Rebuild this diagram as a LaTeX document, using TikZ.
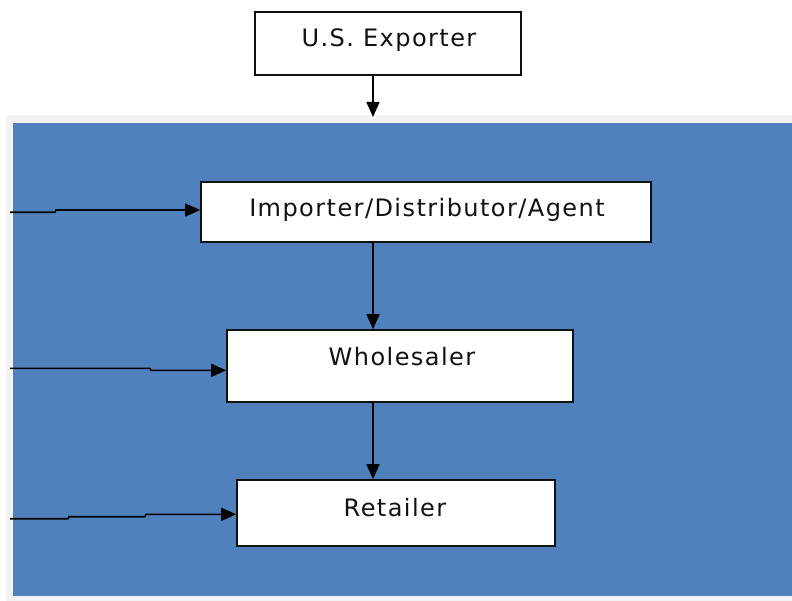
\documentclass[tikz,border=0pt]{standalone}
\usepackage{fontspec}
\setmainfont{DejaVu Sans}[LetterSpace=6]
\usetikzlibrary{arrows.meta,calc}
\definecolor{panelblue}{HTML}{4F81BD}
\definecolor{panelgrey}{HTML}{F2F2F2}
\definecolor{inkc}{HTML}{111111}
\tikzset{
  box/.style={draw=inkc, line width=1.6pt, fill=white, inner sep=0pt},
  lbl/.style={anchor=base, inner sep=0pt, text=inkc, font=\fontsize{24}{28}\selectfont},
  flow/.style={draw=black, line width=1.6pt, -{Triangle[length=15pt,width=13pt]}},
}
\begin{document}
\begin{tikzpicture}[x=1pt,y=-1pt]
\useasboundingbox (0,0) rectangle (792,601);
\fill[white] (0,0) rectangle (792,601);
\fill[panelgrey] (6,115) rectangle (792,601);
\fill[panelblue] (13,123) rectangle (792,596);

\node[box, minimum width=266pt, minimum height=63pt] (exp) at (388,43.5) {};
\node[box, minimum width=450pt, minimum height=60pt] (imp) at (426,212) {};
\node[box, minimum width=346pt, minimum height=72pt] (who) at (400,366) {};
\node[box, minimum width=318pt, minimum height=66pt] (ret) at (396,513) {};

\node[lbl] (expT) at ($(exp.center)+(1,3)$) {U.S. Exporter};
\node[lbl] (impT) at ($(imp.center)+(1,5)$) {Importer/Distributor/Agent};
\node[lbl] (whoT) at ($(who.center)+(2,-0.5)$) {Wholesaler};
\node[lbl] (retT) at ($(ret.center)+(-1,3.5)$) {Retailer};

\coordinate (top) at (373,117);
\draw[flow] (exp.south -| top) -- (top);
\draw[flow] (imp.south -| top) -- (who.north -| top);
\draw[flow] (who.south -| top) -- (ret.north -| top);

\coordinate (in1) at (10,212.3);
\coordinate (in2) at (10,368.3);
\coordinate (in3) at (10,518.7);
\draw[flow] (in1) -- ++(45,0) -- ++(1,-2.3) -- ($(imp.west)+(0,-2)$);
\draw[flow] (in2) -- ++(140,0) -- ++(1,2) -- ($(who.west)+(0,4.3)$);
\draw[flow] (in3) -- ++(58,0) -- ++(1,-2) -- ++(76,0) -- ++(1,-2.4) -- ($(ret.west)+(0,1.3)$);
\end{tikzpicture}
\end{document}
